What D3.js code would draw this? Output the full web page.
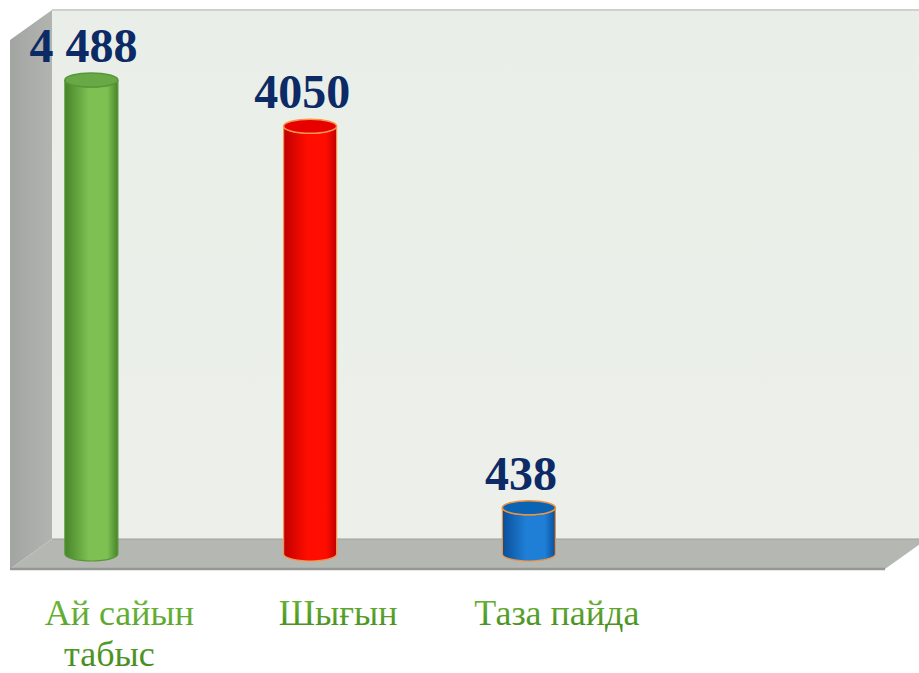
<!DOCTYPE html>
<html>
<head>
<meta charset="utf-8">
<script src="https://cdn.jsdelivr.net/npm/d3@7"></script>
<style>
  body { margin: 0; background: #fff; }
  svg { display: block; }
</style>
</head>
<body>
<div id="chart"></div>
<script>
// data
var categories = ["Ай сайын табыс", "Шығын", "Таза пайда"];
var values = [4488, 4050, 438];
var valueLabels = ["4 488", "4050", "438"];
var barColors = [
  { dark: "#47842a", light: "#7ec052", top: "#68a845", stroke: "#57973a" },
  { dark: "#c00000", light: "#ff0d00", top: "#e80000", stroke: "#f7964a" },
  { dark: "#0a4f9a", light: "#1f7fd6", top: "#0a64b4", stroke: "#f0923f" }
];

var width = 919, height = 673;
var dx = 42, dy = 30;           // depth offset of the 3d box
var left = 10, right = 885, floorFront = 569, floorBack = 539, wallTop = 10;

var svg = d3.select("#chart").append("svg")
  .attr("width", width).attr("height", height);
var defs = svg.append("defs");

// x: 4 slots, the last one is empty
var x = d3.scaleBand().domain(d3.range(4)).range([left, right]);
var y = d3.scaleLinear().domain([0, 4488]).range([554, 80]);

// gradients
var side = defs.append("linearGradient").attr("id", "side").attr("x1", 0).attr("x2", 1);
side.append("stop").attr("offset", 0).attr("stop-color", "#a3a5a2");
side.append("stop").attr("offset", 1).attr("stop-color", "#b2b4b0");

var wall = defs.append("linearGradient").attr("id", "wall").attr("x1", 0).attr("x2", 0).attr("y1", 0).attr("y2", 1);
wall.append("stop").attr("offset", 0).attr("stop-color", "#e9efe8");
wall.append("stop").attr("offset", 1).attr("stop-color", "#edf0ea");

var txt = defs.append("linearGradient").attr("id", "txt").attr("x1", 0).attr("x2", 0).attr("y1", 0).attr("y2", 1);
txt.append("stop").attr("offset", 0).attr("stop-color", "#6fba3c");
txt.append("stop").attr("offset", 1).attr("stop-color", "#41891c");

barColors.forEach(function(c, i) {
  var g = defs.append("linearGradient").attr("id", "cyl" + i).attr("x1", 0).attr("x2", 1);
  g.append("stop").attr("offset", 0).attr("stop-color", c.dark);
  g.append("stop").attr("offset", 0.45).attr("stop-color", c.light);
  g.append("stop").attr("offset", 0.8).attr("stop-color", c.light);
  g.append("stop").attr("offset", 1).attr("stop-color", c.dark);
});

// back wall
svg.append("rect")
  .attr("x", left + dx).attr("y", wallTop)
  .attr("width", width - left - dx).attr("height", floorBack - wallTop)
  .attr("fill", "url(#wall)");
svg.append("line")
  .attr("x1", left + dx).attr("x2", width).attr("y1", wallTop).attr("y2", wallTop)
  .attr("stroke", "#cfd1ce").attr("stroke-width", 2);

// left side wall
svg.append("path")
  .attr("d", "M" + left + "," + (wallTop + dy) + "L" + (left + dx) + "," + wallTop +
    "L" + (left + dx) + "," + floorBack + "L" + left + "," + floorFront + "Z")
  .attr("fill", "url(#side)");

// floor
svg.append("path")
  .attr("d", "M" + left + "," + floorFront + "L" + (left + dx) + "," + floorBack +
    "L" + (right + dx) + "," + floorBack + "L" + right + "," + floorFront + "Z")
  .attr("fill", "#b4b7b2");
svg.append("line")
  .attr("x1", left + dx).attr("x2", width).attr("y1", floorBack).attr("y2", floorBack)
  .attr("stroke", "#9ea19c").attr("stroke-width", 1);
svg.append("line")
  .attr("x1", left).attr("x2", right).attr("y1", floorFront).attr("y2", floorFront)
  .attr("stroke", "#959893").attr("stroke-width", 2.5);

// cylinders
var bw = 53, ry = 7, shift = -28;
var bars = svg.selectAll("g.bar").data(values).enter().append("g").attr("class", "bar");

bars.append("path")
  .attr("d", function(d, i) {
    var cx = x(i) + x.bandwidth() / 2 + shift, x0 = cx - bw / 2, x1 = cx + bw / 2;
    var top = y(d), base = y(0);
    return "M" + x0 + "," + top + "L" + x0 + "," + base +
      "A" + (bw / 2) + "," + ry + " 0 0 0 " + x1 + "," + base +
      "L" + x1 + "," + top +
      "A" + (bw / 2) + "," + ry + " 0 0 1 " + x0 + "," + top + "Z";
  })
  .attr("fill", function(d, i) { return "url(#cyl" + i + ")"; })
  .attr("stroke", function(d, i) { return barColors[i].stroke; })
  .attr("stroke-width", 1.2);

bars.append("ellipse")
  .attr("cx", function(d, i) { return x(i) + x.bandwidth() / 2 + shift; })
  .attr("cy", function(d) { return y(d); })
  .attr("rx", bw / 2).attr("ry", ry)
  .attr("fill", function(d, i) { return barColors[i].top; })
  .attr("stroke", function(d, i) { return barColors[i].stroke; })
  .attr("stroke-width", 1.5);

// value labels
bars.append("text")
  .attr("x", function(d, i) { return x(i) + x.bandwidth() / 2 + shift - 8; })
  .attr("y", function(d) { return y(d) - 18; })
  .attr("text-anchor", "middle")
  .attr("font-family", "'Liberation Serif', 'Times New Roman', serif")
  .attr("font-weight", "bold")
  .attr("font-size", 48)
  .attr("fill", "#0b2a66")
  .text(function(d, i) { return valueLabels[i]; });

// category labels
var lines = [["Ай сайын", "табыс"], ["Шығын"], ["Таза пайда"]];
svg.selectAll("text.cat").data(categories).enter().append("text")
  .attr("class", "cat")
  .attr("text-anchor", "middle")
  .attr("font-family", "'Liberation Serif', 'Times New Roman', serif")
  .attr("font-size", 36)
  .attr("fill", "url(#txt)")
  .each(function(d, i) {
    var t = d3.select(this);
    lines[i].forEach(function(l, j) {
      t.append("tspan")
        .attr("x", x(i) + x.bandwidth() / 2 + (j ? -10 : 0))
        .attr("y", 625 + j * 41)
        .text(l);
    });
  });
</script>
</body>
</html>
